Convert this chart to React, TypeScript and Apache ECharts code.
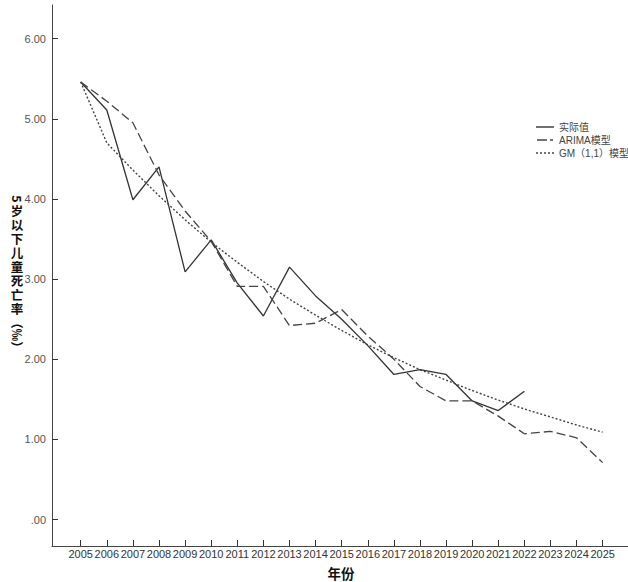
import React, { useEffect, useRef } from "react";
import * as echarts from "echarts";

const years = [2005, 2006, 2007, 2008, 2009, 2010, 2011, 2012, 2013, 2014, 2015, 2016, 2017, 2018, 2019, 2020, 2021, 2022, 2023, 2024, 2025];
const actualValues = [5.46, 5.11, 3.99, 4.40, 3.09, 3.49, 2.95, 2.54, 3.15, 2.79, 2.50, 2.17, 1.81, 1.87, 1.81, 1.48, 1.36, 1.60, null, null, null];
const arimaValues = [5.46, 5.22, 4.95, 4.30, 3.85, 3.47, 2.91, 2.91, 2.42, 2.45, 2.62, 2.29, 2.00, 1.66, 1.48, 1.48, 1.29, 1.07, 1.10, 1.02, 0.71];
const gmValues = [5.46, 4.70, 4.36, 4.04, 3.74, 3.46, 3.21, 2.97, 2.75, 2.55, 2.36, 2.18, 2.02, 1.87, 1.74, 1.61, 1.49, 1.38, 1.28, 1.18, 1.09];
const yTickValues = [0, 1, 2, 3, 4, 5, 6];
const seriesNames = ["实际值", "ARIMA模型", "GM（1,1）模型"];
const xTitle = "年份";
const yTitleHead = "5";
const yTitleBody = ["岁", "以", "下", "儿", "童", "死", "亡", "率"];
const yTitleTail = "（‰）";

const CJK = '"Noto Sans CJK SC", "Liberation Sans", Arial, sans-serif';
const SANS = '"Liberation Sans", "Noto Sans CJK SC", Arial, sans-serif';

const ICON_SOLID = "path://M0,0H18V1.4H0Z";
const ICON_DASH = "path://M0,0H10V1.4H0Z M13,0H16V1.4H13Z";
const ICON_DOT = "path://M0,0H2V1.4H0Z M4,0H6V1.4H4Z M8,0H10V1.4H8Z M12,0H14V1.4H12Z M16,0H18V1.4H16Z";

export default function App() {
  const ref = useRef<HTMLDivElement>(null);
  useEffect(() => {
    if (!ref.current) return;
    const chart = echarts.init(ref.current, null, { renderer: "svg" });
    const pair = (vals: (number | null)[]) => years.map((y, i) => [y, vals[i]]);

    const titleFont = `bold 12.5px ${CJK}`;
    const titleGraphics: any[] = [
      {
        type: "text",
        x: 17,
        y: 199,
        rotation: -Math.PI / 2,
        style: { text: yTitleHead, font: titleFont, fill: "#111", align: "center", verticalAlign: "middle" },
      },
      ...yTitleBody.map((ch, i) => ({
        type: "text",
        x: 17,
        y: 210.5 + i * 14,
        style: { text: ch, font: titleFont, fill: "#111", align: "center", verticalAlign: "middle" },
      })),
      {
        type: "text",
        x: 17,
        y: 335,
        rotation: -Math.PI / 2,
        style: { text: yTitleTail, font: titleFont, fill: "#111", align: "center", verticalAlign: "middle" },
      },
      {
        type: "text",
        x: 341,
        y: 573,
        style: { text: xTitle, font: `bold 13.5px ${CJK}`, fill: "#111", align: "center", verticalAlign: "middle" },
      },
    ];

    chart.setOption({
      animation: false,
      backgroundColor: "#fff",
      grid: { left: 52, right: 0, top: 5, bottom: 36, containLabel: false },
      legend: {
        orient: "vertical",
        left: 531,
        top: 117,
        itemWidth: 18,
        itemHeight: 1.4,
        itemGap: 3,
        textStyle: { fontSize: 10, color: "#444", fontFamily: SANS },
        data: [
          { name: seriesNames[0], icon: ICON_SOLID },
          { name: seriesNames[1], icon: ICON_DASH },
          { name: seriesNames[2], icon: ICON_DOT },
        ],
      },
      xAxis: {
        type: "value",
        min: 2003.9,
        max: 2025.97,
        axisLine: { show: true, onZero: false, lineStyle: { color: "#444", width: 1 } },
        axisTick: { show: true, inside: true, length: 6, customValues: years, lineStyle: { color: "#333" } },
        axisLabel: {
          customValues: years,
          fontSize: 11,
          color: "#333",
          fontFamily: SANS,
          margin: 2,
          formatter: (v: number) => String(Math.round(v)),
        },
        splitLine: { show: false },
      },
      yAxis: {
        type: "value",
        min: -0.33,
        max: 6.42,
        axisLine: { show: true, onZero: false, lineStyle: { color: "#444", width: 1 } },
        axisTick: { show: true, inside: true, length: 6, customValues: yTickValues, lineStyle: { color: "#333" } },
        axisLabel: {
          customValues: yTickValues,
          fontSize: 11,
          color: "#555",
          fontFamily: SANS,
          margin: 6,
          formatter: (v: number) => (v === 0 ? ".00" : v.toFixed(2)),
        },
        splitLine: { show: false },
      },
      graphic: titleGraphics,
      series: [
        {
          name: seriesNames[0],
          type: "line",
          data: pair(actualValues),
          symbol: "none",
          showSymbol: false,
          connectNulls: false,
          lineStyle: { color: "#333", width: 1.3, type: "solid" },
          itemStyle: { color: "#333" },
        },
        {
          name: seriesNames[1],
          type: "line",
          data: pair(arimaValues),
          symbol: "none",
          showSymbol: false,
          lineStyle: { color: "#444", width: 1.3, type: [9, 4] },
          itemStyle: { color: "#444" },
        },
        {
          name: seriesNames[2],
          type: "line",
          data: pair(gmValues),
          symbol: "none",
          showSymbol: false,
          lineStyle: { color: "#444", width: 1.4, type: [2, 2] },
          itemStyle: { color: "#444" },
        },
      ],
    });
    return () => chart.dispose();
  }, []);
  return <div ref={ref} style={{ position: "absolute", left: 0, top: 0, width: 628, height: 582 }} />;
}
